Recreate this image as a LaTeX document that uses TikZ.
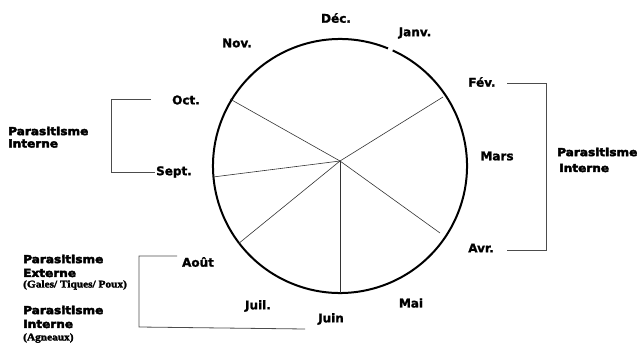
\documentclass[tikz,border=0pt]{standalone}
\usepackage{fontspec}
\setmainfont{DejaVu Sans}
\newfontfamily\monthfont[FakeBold=1.5]{DejaVu Sans Bold}
\newfontfamily\heavyfont[FakeBold=4,FakeStretch=1.1]{DejaVu Sans Bold}
\newfontfamily\smallserif[FakeBold=2.5,FakeStretch=1.1]{Liberation Serif Bold}
\begin{document}
\begin{tikzpicture}[x=1pt,y=-1pt,
  month/.style={inner sep=0pt,font=\monthfont\fontsize{12}{14}\selectfont},
  para/.style={inner sep=0pt,anchor=west,font=\heavyfont\fontsize{11}{12}\selectfont},
  sub/.style={inner sep=0pt,anchor=west,font=\smallserif\fontsize{10.3}{11}\selectfont},
  spoke/.style={draw=black!80,line width=0.6pt},
  bracket/.style={draw=black!70,line width=0.8pt},
  rim/.style={draw=black,line width=2pt}]
\useasboundingbox (0,0) rectangle (639,347);
% circle with small gap near Janv.
\coordinate (c) at (340,166);
\draw[rim] (c) ++(-65.5:127) arc[start angle=-65.5,end angle=292.2,radius=127];
% spokes
\coordinate (o) at (340,161);
\coordinate (eOct) at (230,99);
\coordinate (eSep) at (213,177);
\coordinate (eAou) at (238,244);
\coordinate (eJui) at (340,293);
\coordinate (eAvr) at (440,233);
\coordinate (eFev) at (443,97);
\foreach \e in {eOct,eSep,eAou,eJui,eAvr,eFev} \draw[spoke] (o) -- (\e);
% months
\node[month] (dec) at (336,18) {Déc.};
\node[month] (jan) at (415,33) {Janv.};
\node[month] (nov) at (237,43) {Nov.};
\node[month] (oct) at (186,100) {Oct.};
\node[month] (sep) at (174,172) {Sept.};
\node[month] (aou) at (198,262) {Août};
\node[month] (jul) at (258,306) {Juil.};
\node[month] (jun) at (331,319) {Juin};
\node[month] (mai) at (411,303) {Mai};
\node[month] (avr) at (481,248) {Avr.};
\node[month] (mar) at (497,156) {Mars};
\node[month] (fev) at (482,82) {Fév.};
% left bracket
\coordinate (l1) at (151,99);
\coordinate (l2) at (111,99);
\coordinate (l3) at (111,172);
\coordinate (l4) at (155,172);
\draw[bracket] (l1) -- (l2) -- (l3) -- (l4);
\node[para] (lp1) at (8,131) {Parasitisme};
\node[para] (lp2) at (8,143.5) {Interne};
% right bracket
\coordinate (r1) at (507,83);
\coordinate (r2) at (546,83);
\coordinate (r3) at (546,250);
\coordinate (r4) at (507,250);
\draw[bracket] (r1) -- (r2) -- (r3) -- (r4);
\node[para] (rp1) at (557,152) {Parasitisme};
\node[para] (rp2) at (559,168) {Interne};
% bottom bracket
\coordinate (b1) at (177,256);
\coordinate (b2) at (139,256);
\coordinate (b3) at (139,327);
\coordinate (b4) at (305,329);
\draw[bracket] (b1) -- (b2) -- (b3) -- (b4);
\node[para] (bp1) at (23,259) {Parasitisme};
\node[para] (bp2) at (23,273) {Externe};
\node[sub] (bp3) at (23,285) {(Gales/ Tiques/ Poux)};
\node[para] (bp4) at (23,310) {Parasitisme};
\node[para] (bp5) at (23,324) {Interne};
\node[sub] (bp6) at (23,338) {(Agneaux)};
\end{tikzpicture}
\end{document}
